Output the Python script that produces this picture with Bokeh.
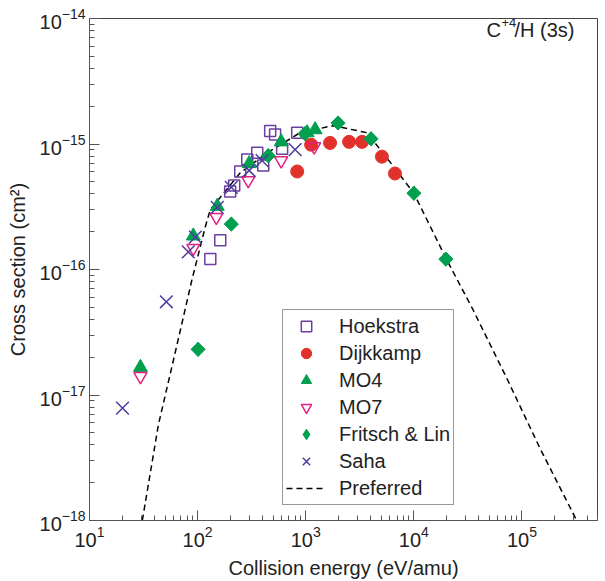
import numpy as np
from bokeh.plotting import figure
from bokeh.models import Range1d, Legend, LegendItem, Label
from bokeh.embed import file_html
from bokeh.resources import INLINE

# ---- data ----
hoek_x = [131, 162, 200, 218, 248, 288, 356, 405, 469, 521, 834, 605]
hoek_y = [1.21e-16, 1.71e-16, 4.19e-16, 4.68e-16, 6.04e-16, 7.52e-16, 8.53e-16,
          6.73e-16, 1.27e-15, 1.19e-15, 1.23e-15, 9.18e-16]

dijk_x = [834, 1122, 1679, 2518, 3319, 5070, 6693]
dijk_y = [6.04e-16, 9.87e-16, 1.02e-15, 1.04e-15, 1.04e-15, 7.93e-16, 5.82e-16]

mo4_x = [29.6, 91.2, 152, 300, 593, 1030, 1222]
mo4_y = [1.66e-17, 1.85e-16, 3.19e-16, 6.98e-16, 1.04e-15, 1.23e-15, 1.30e-15]

mo7_x = [29.6, 91.2, 149, 294, 593, 1197]
mo7_y = [1.41e-17, 1.48e-16, 2.61e-16, 5.12e-16, 7.38e-16, 9.53e-16]

fritsch_x = [101, 205, 450, 986, 1991, 4018, 10020, 19770]
fritsch_y = [2.31e-17, 2.30e-16, 8.07e-16, 1.21e-15, 1.47e-15, 1.10e-15, 4.05e-16, 1.21e-16]

saha_x = [20.2, 51.4, 82, 95.3, 152, 205, 300, 395, 798]
saha_y = [7.87e-18, 5.53e-17, 1.38e-16, 1.81e-16, 3.13e-16, 4.51e-16, 6.15e-16, 7.38e-16, 9.02e-16]

pref_x = [30.8, 43.4, 62.2, 89, 118, 131, 248, 441, 887, 1790, 3690, 6010,
          10000, 20200, 35200, 72400, 146000, 321000]
pref_y = [1.0e-18, 5.8e-18, 2.2e-17, 8.4e-17, 2.2e-16, 3.0e-16, 5.9e-16, 8.5e-16,
          1.23e-15, 1.40e-15, 1.23e-15, 7.2e-16, 4.05e-16, 1.19e-16, 4.8e-17,
          1.36e-17, 3.8e-18, 1.0e-18]

FONT = "Liberation Sans"

p = figure(width=605, height=581, x_axis_type="log", y_axis_type="log",
           x_range=Range1d(10, 5e5), y_range=Range1d(1e-18, 1e-14),
           output_backend="svg", toolbar_location=None,
           min_border_left=89, min_border_right=8, min_border_top=18, min_border_bottom=58)
p.xgrid.visible = False
p.ygrid.visible = False
p.outline_line_color = "#444444"
p.outline_line_width = 1

for ax in (p.xaxis[0], p.yaxis[0]):
    ax.axis_line_color = "#555555"
    ax.major_tick_in = 10
    ax.major_tick_out = 0
    ax.minor_tick_in = 5
    ax.minor_tick_out = 0
    ax.major_tick_line_color = "#555555"
    ax.minor_tick_line_color = "#555555"
    ax.major_label_text_font = FONT
    ax.major_label_text_font_size = "20px"
    ax.major_label_text_color = "#222222"
    ax.axis_label_text_font = FONT
    ax.axis_label_text_font_size = "20px"
    ax.axis_label_text_font_style = "normal"
    ax.axis_label_text_color = "#222222"

p.xaxis.axis_label = "Collision energy (eV/amu)"
p.yaxis.axis_label = "Cross section (cm²)"
p.xaxis.major_label_standoff = 5
p.xaxis.axis_label_standoff = 7
p.yaxis.major_label_standoff = 4
p.yaxis.axis_label_standoff = 8

purple = "#6b3fa0"
xblue = "#4a3d9c"
red = "#e2312a"
green = "#00a04f"
pink = "#e6207f"

r_pref = p.line(pref_x, pref_y, line_color="black", line_width=1.5, line_dash="6 4")
r_hoek = p.scatter(hoek_x, hoek_y, marker="square", size=11, fill_color=None,
                   line_color=purple, line_width=1.5)
r_dijk = p.scatter(dijk_x, dijk_y, marker="circle", size=13, fill_color=red, line_color=red)
r_mo4 = p.scatter(mo4_x, mo4_y, marker="triangle", size=14, fill_color=green, line_color=green)
r_mo7 = p.scatter(mo7_x, mo7_y, marker="inverted_triangle", size=13, fill_color=None,
                  line_color=pink, line_width=1.5)
# diamond symbol used by the legend (hidden under the rotated squares on the plot)
r_fri_leg = p.scatter(fritsch_x, fritsch_y, marker="diamond", size=14,
                      fill_color=green, line_color=green)
r_fri = p.scatter(fritsch_x, fritsch_y, marker="square", angle=np.pi / 4, size=10,
                  fill_color=green, line_color=green)
r_saha = p.scatter(saha_x, saha_y, marker="x", size=18, line_color=xblue, line_width=1.5)

legend = Legend(items=[
    LegendItem(label="Hoekstra", renderers=[r_hoek]),
    LegendItem(label="Dijkkamp", renderers=[r_dijk]),
    LegendItem(label="MO4", renderers=[r_mo4]),
    LegendItem(label="MO7", renderers=[r_mo7]),
    LegendItem(label="Fritsch & Lin", renderers=[r_fri_leg]),
    LegendItem(label="Saha", renderers=[r_saha]),
    LegendItem(label="Preferred", renderers=[r_pref]),
], location=(193, 15))
legend.label_text_font = FONT
legend.label_text_font_size = "20px"
legend.label_text_color = "#222222"
legend.glyph_width = 40
legend.glyph_height = 26
legend.label_height = 26
legend.spacing = 1
legend.padding = 3
legend.label_standoff = 13
legend.border_line_color = "#333333"
legend.border_line_width = 1
legend.background_fill_color = "white"
legend.background_fill_alpha = 1
p.add_layout(legend, "center")

# title text  C^{+4}/H (3s)
p.add_layout(Label(x=397, y=491, x_units="screen", y_units="screen", text="C",
                   text_font=FONT, text_font_size="20px", text_color="#222222",
                   text_baseline="alphabetic"))
p.add_layout(Label(x=412, y=498, x_units="screen", y_units="screen", text="+4",
                   text_font=FONT, text_font_size="13px", text_color="#222222",
                   text_baseline="alphabetic"))
p.add_layout(Label(x=425, y=491, x_units="screen", y_units="screen", text="/H (3s)",
                   text_font=FONT, text_font_size="20px", text_color="#222222",
                   text_baseline="alphabetic"))
p.add_layout(Label(x=511, y=2, x_units="screen", y_units="screen", text="IG99.304/6a",
                   angle=np.pi / 2, text_font=FONT, text_font_size="9px",
                   text_color="#777777", text_baseline="middle", text_align="left"))

open("out.html", "w").write(file_html(p, INLINE))
